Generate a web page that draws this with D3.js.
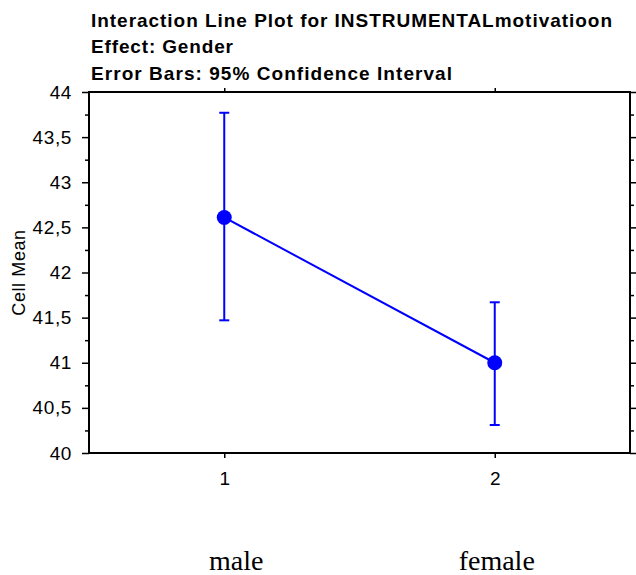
<!DOCTYPE html>
<html>
<head>
<meta charset="utf-8">
<script src="https://cdn.jsdelivr.net/npm/d3@7"></script>
<style>
  html, body { margin: 0; padding: 0; background: #fff; }
  svg { display: block; }
</style>
</head>
<body>
<svg id="chart" width="636" height="575"></svg>
<script>
// ---- data ----
const titleLines = [
  "Interaction Line Plot for INSTRUMENTALmotivatioon",
  "Effect: Gender",
  "Error Bars: 95% Confidence Interval"
];
const groups = [1, 2];
const groupNames = ["male", "female"];
const cellMeans = [42.61, 41.0];
const ciLower = [41.47, 40.31];
const ciUpper = [43.77, 41.67];
const yMajorTicks = [40, 40.5, 41, 41.5, 42, 42.5, 43, 43.5, 44];
const yMinorTicks = [40.25, 40.75, 41.25, 41.75, 42.25, 42.75, 43.25, 43.75];
const yLabel = "Cell Mean";

// ---- layout ----
const svg = d3.select("#chart");
const L = 89, R = 630, T = 92, B = 453;
const x = d3.scaleLinear().domain([0.5, 2.5]).range([L, R]);
const y = d3.scaleLinear().domain([40, 44]).range([B, T]);
const fmt = d => String(d).replace(".", ",");
const blue = "#0000ff";
const sans = "'Liberation Sans', Arial, sans-serif";

// title
const titleWidths = [521, 142, 361];
svg.append("g").selectAll("text").data(titleLines).join("text")
  .attr("x", 91)
  .attr("y", (d, i) => 26.5 + i * 26.5)
  .attr("font-family", sans)
  .attr("font-weight", "bold")
  .attr("font-size", 19)
  .attr("textLength", (d, i) => titleWidths[i])
  .attr("lengthAdjust", "spacing")
  .text(d => d);

// left axis
const leftAxis = svg.append("g").attr("transform", `translate(${L},0)`)
  .call(d3.axisLeft(y).tickValues(yMajorTicks).tickFormat(fmt).tickSize(7).tickPadding(10));
leftAxis.select(".domain").remove();
leftAxis.selectAll(".tick line").attr("stroke", "#000").attr("stroke-width", 1.5);
leftAxis.selectAll(".tick text").attr("font-family", sans).attr("font-size", 19)
  .attr("letter-spacing", 0.6).attr("fill", "#000");
svg.append("g").attr("transform", `translate(${L},0)`)
  .call(d3.axisLeft(y).tickValues(yMinorTicks).tickFormat("").tickSize(4))
  .call(g => g.select(".domain").remove())
  .selectAll(".tick line").attr("stroke", "#000").attr("stroke-width", 1.5);

// right axis
svg.append("g").attr("transform", `translate(${R},0)`)
  .call(d3.axisRight(y).tickValues(yMajorTicks).tickFormat("").tickSize(7))
  .call(g => g.select(".domain").remove())
  .selectAll(".tick line").attr("stroke", "#000").attr("stroke-width", 1.5);
svg.append("g").attr("transform", `translate(${R},0)`)
  .call(d3.axisRight(y).tickValues(yMinorTicks).tickFormat("").tickSize(4))
  .call(g => g.select(".domain").remove())
  .selectAll(".tick line").attr("stroke", "#000").attr("stroke-width", 1.5);

// bottom axis
const bottomAxis = svg.append("g").attr("transform", `translate(0,${B})`)
  .call(d3.axisBottom(x).tickValues(groups).tickFormat(d3.format("d")).tickSize(5).tickPadding(14));
bottomAxis.select(".domain").remove();
bottomAxis.selectAll(".tick line").attr("stroke", "#000").attr("stroke-width", 1.5);
bottomAxis.selectAll(".tick text").attr("font-family", sans).attr("font-size", 19).attr("fill", "#000");

// top axis
svg.append("g").attr("transform", `translate(0,${T})`)
  .call(d3.axisTop(x).tickValues(groups).tickFormat("").tickSize(4))
  .call(g => g.select(".domain").remove())
  .selectAll(".tick line").attr("stroke", "#000").attr("stroke-width", 1.5);

// frame
svg.append("rect")
  .attr("x", L).attr("y", T).attr("width", R - L).attr("height", B - T)
  .attr("fill", "none").attr("stroke", "#000").attr("stroke-width", 2);

// y label
svg.append("text")
  .attr("transform", `translate(25,${(T + B) / 2}) rotate(-90)`)
  .attr("text-anchor", "middle")
  .attr("font-family", sans)
  .attr("font-size", 18)
  .attr("letter-spacing", 0.6)
  .text(yLabel);

// series
const pts = groups.map((g, i) => ({ g, m: cellMeans[i], lo: ciLower[i], hi: ciUpper[i] }));
svg.append("path").datum(pts)
  .attr("fill", "none").attr("stroke", blue).attr("stroke-width", 2)
  .attr("d", d3.line().x(d => x(d.g)).y(d => y(d.m)));

const eb = svg.append("g").selectAll("g").data(pts).join("g");
eb.append("line")
  .attr("x1", d => x(d.g)).attr("x2", d => x(d.g))
  .attr("y1", d => y(d.lo)).attr("y2", d => y(d.hi))
  .attr("stroke", blue).attr("stroke-width", 2);
eb.append("line")
  .attr("x1", d => x(d.g) - 5).attr("x2", d => x(d.g) + 5)
  .attr("y1", d => y(d.hi)).attr("y2", d => y(d.hi))
  .attr("stroke", blue).attr("stroke-width", 2);
eb.append("line")
  .attr("x1", d => x(d.g) - 5).attr("x2", d => x(d.g) + 5)
  .attr("y1", d => y(d.lo)).attr("y2", d => y(d.lo))
  .attr("stroke", blue).attr("stroke-width", 2);
eb.append("circle")
  .attr("cx", d => x(d.g)).attr("cy", d => y(d.m)).attr("r", 7.5)
  .attr("fill", blue);

// group names
svg.append("g").selectAll("text").data(groupNames).join("text")
  .attr("x", (d, i) => x(groups[i]) + (i === 0 ? 12 : 2))
  .attr("y", 570)
  .attr("text-anchor", "middle")
  .attr("font-family", "'Liberation Serif', 'Times New Roman', serif")
  .attr("font-size", 28)
  .text(d => d);
</script>
</body>
</html>
